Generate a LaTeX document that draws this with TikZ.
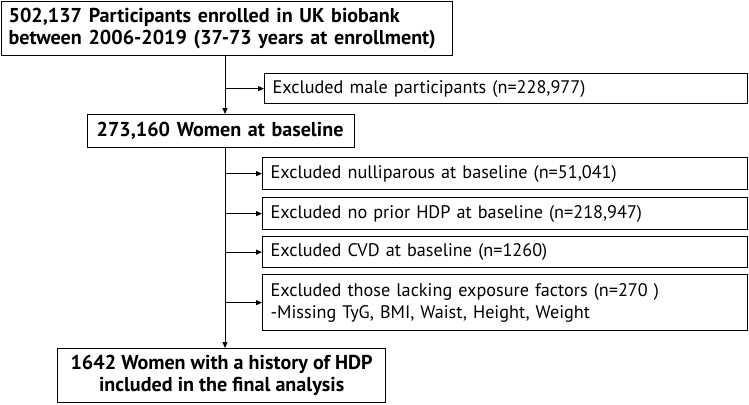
\documentclass[tikz,border=0pt]{standalone}
\usepackage{fontspec}
\setmainfont{PT Sans}
\usetikzlibrary{arrows.meta}
\begin{document}
\begin{tikzpicture}[x=1pt,y=-1pt,
  box/.style={draw, line width=1.3pt, anchor=north west, inner ysep=0pt},
  mainbox/.style={box, inner xsep=7pt, font=\fontsize{20.1}{22}\selectfont\bfseries},
  exclbox/.style={box, inner xsep=8pt, align=left, text width=469pt, font=\fontsize{18.2}{22}\selectfont},
  conn/.style={line width=1pt, -{Triangle[length=6pt,width=5pt]}}
]
\useasboundingbox (0,0) rectangle (749,404);
\node[mainbox, align=left, text width=437pt, minimum height=54pt] (b1) at (1,1)
  {502,137 Participants enrolled in UK biobank\\between 2006-2019 (37-73 years at enrollment)};
\node[exclbox, text width=467pt, minimum height=30pt] (male) at (264,73)
  {Excluded male participants (n=228,977)};
\node[mainbox, inner xsep=9pt, align=left, text width=249pt, minimum height=33pt] (b2) at (87,114)
  {\mbox{273,160 Women at baseline}};
\node[exclbox, minimum height=32pt] (nulli) at (262,157)
  {Excluded nulliparous at baseline (n=51,041)};
\node[exclbox, minimum height=32pt] (hdp) at (262,197)
  {Excluded no prior HDP at baseline (n=218,947)};
\node[exclbox, minimum height=31pt] (cvd) at (262,236)
  {Excluded CVD at baseline (n=1260)};
\node[exclbox, minimum height=56pt] (expo) at (262,274)
  {Excluded those lacking exposure factors (n=270 )\\-Missing TyG, BMI, Waist, Height, Weight};
\node[mainbox, align=center, minimum width=328pt, minimum height=54pt] (fin) at (57,348)
  {1642 Women with a history of HDP\\included in the final analysis};
\coordinate (tr) at (225,0);
\draw[conn] (b1.south -| tr) -- (b2.north -| tr);
\draw[conn] (male.west -| tr) -- (male.west);
\draw[conn] (b2.south -| tr) -- (fin.north -| tr);
\draw[conn] (nulli.west -| tr) -- (nulli.west);
\draw[conn] (hdp.west -| tr) -- (hdp.west);
\draw[conn] (cvd.west -| tr) -- (cvd.west);
\draw[conn] (expo.west -| tr) -- (expo.west);
\end{tikzpicture}
\end{document}
